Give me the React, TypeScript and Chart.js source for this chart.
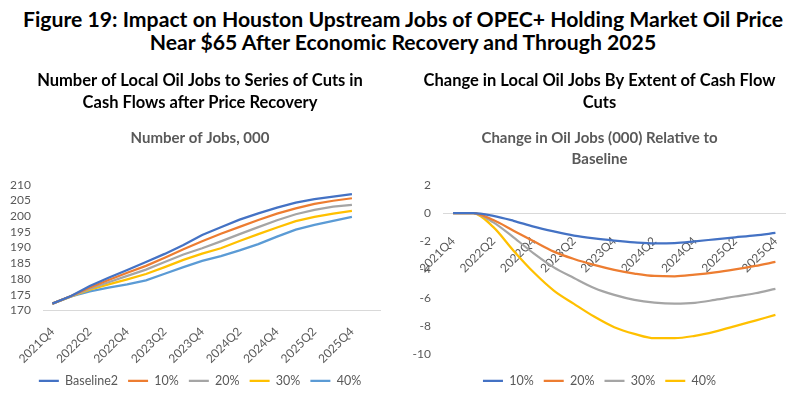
import React, { useEffect, useRef } from "react";
import { Chart, registerables } from "chart.js";

Chart.register(...registerables);

const FONT = "Lato";

const quarters = [
  "2021Q4", "2022Q1", "2022Q2", "2022Q3", "2022Q4",
  "2023Q1", "2023Q2", "2023Q3", "2023Q4",
  "2024Q1", "2024Q2", "2024Q3", "2024Q4",
  "2025Q1", "2025Q2", "2025Q3", "2025Q4",
];
// the left chart's category axis holds one trailing empty slot
const leftCategories = [...quarters, ""];

const jobsBaseline2 = [172.2, 174.6, 177.8, 180.4, 182.9, 185.4, 188.0, 190.8, 194.0, 196.5, 198.9, 200.9, 202.7, 204.3, 205.4, 206.2, 207.0];
const jobs10 = [172.2, 174.6, 177.3, 179.7, 182.0, 184.2, 186.8, 189.5, 192.0, 194.4, 196.6, 198.8, 200.8, 202.5, 203.9, 204.9, 205.7];
const jobs20 = [172.2, 174.5, 176.9, 179.0, 181.0, 183.0, 185.4, 187.8, 189.8, 192.0, 194.3, 196.5, 198.7, 200.6, 202.0, 203.0, 203.6];
const jobs30 = [172.2, 174.5, 176.6, 178.3, 179.9, 181.6, 183.8, 186.1, 188.1, 189.8, 192.1, 194.3, 196.4, 198.4, 199.8, 200.8, 201.7];
const jobs40 = [172.2, 174.5, 176.1, 177.3, 178.3, 179.6, 181.7, 183.8, 185.8, 187.3, 189.1, 191.1, 193.5, 195.7, 197.2, 198.5, 199.8];

const change10 = [0, 0, -0.2, -0.55, -0.96, -1.3, -1.6, -1.8, -1.95, -2.07, -2.14, -2.12, -2.0, -1.86, -1.72, -1.58, -1.41];
const change20 = [0, 0, -0.5, -1.25, -2.0, -2.73, -3.25, -3.67, -4.02, -4.28, -4.45, -4.47, -4.35, -4.19, -3.98, -3.74, -3.46];
const change30 = [0, 0, -0.66, -1.72, -2.85, -3.84, -4.59, -5.3, -5.79, -6.14, -6.33, -6.4, -6.35, -6.14, -5.9, -5.67, -5.36];
const change40 = [0, 0, -1.0, -2.66, -4.19, -5.48, -6.42, -7.32, -8.07, -8.54, -8.85, -8.85, -8.68, -8.38, -8.0, -7.6, -7.2];

const leftYTicks = { min: 170, max: 210, step: 5 };
const rightYTicks = { min: -10, max: 2, step: 2 };

const BLUE = "#4472C4";
const ORANGE = "#ED7D31";
const GRAY = "#A5A5A5";
const YELLOW = "#FFC000";
const LIGHTBLUE = "#5B9BD5";
const TEXT_GRAY = "#595959";
const AXIS_GRAY = "#D9D9D9";

function line(label: string, data: number[], color: string, smooth: boolean) {
  return {
    label,
    data,
    xAxisID: "x",
    yAxisID: "y",
    borderColor: color,
    backgroundColor: color,
    borderWidth: 2.25,
    pointRadius: 0,
    pointHoverRadius: 0,
    tension: smooth ? 0.4 : 0,
    cubicInterpolationMode: smooth ? ("monotone" as const) : ("default" as const),
    fill: false,
  };
}

const tickFont = { family: FONT, size: 12 };
const titleFont = { family: FONT, size: 16.5, weight: "bold" as const, lineHeight: 1.34 };
const subtitleFont = { family: FONT, size: 15, weight: "bold" as const, lineHeight: 1.4 };

function everyOther(this: any, value: any, index: number) {
  return index % 2 === 0 ? this.getLabelForValue(value) : "";
}

function legendOpts() {
  return {
    display: true,
    position: "bottom" as const,
    labels: {
      usePointStyle: true,
      pointStyle: "line",
      pointStyleWidth: 20,
      color: TEXT_GRAY,
      font: { family: FONT, size: 12.5 },
      padding: 10,
    },
  };
}

function gapAxis(position: "bottom" | "right", size: number) {
  return {
    type: "category",
    position,
    display: true,
    grid: { display: false, drawTicks: false },
    border: { display: false },
    ticks: { display: false },
    afterFit: (s: any) => {
      if (position === "bottom") s.height = size;
      else s.width = size;
    },
  };
}

function LeftChart() {
  const ref = useRef<HTMLCanvasElement>(null);
  useEffect(() => {
    if (!ref.current) return;
    const chart = new Chart(ref.current, {
      type: "line",
      data: {
        labels: leftCategories,
        datasets: [
          line("Baseline2", jobsBaseline2, BLUE, false),
          line("10%", jobs10, ORANGE, false),
          line("20%", jobs20, GRAY, false),
          line("30%", jobs30, YELLOW, false),
          line("40%", jobs40, LIGHTBLUE, false),
        ],
      },
      options: {
        animation: false,
        responsive: false,
        layout: { padding: 0 },
        plugins: {
          tooltip: { enabled: false },
          title: {
            display: true,
            text: ["Number of Local Oil Jobs to Series of Cuts in", "Cash Flows after Price Recovery"],
            color: "#000000",
            font: titleFont,
            padding: { top: 10, bottom: 0 },
          },
          subtitle: {
            display: true,
            text: "Number of Jobs, 000",
            color: TEXT_GRAY,
            font: subtitleFont,
            padding: { top: 13, bottom: 36.5 },
          },
          legend: legendOpts() as any,
        },
        scales: {
          x: {
            type: "category",
            offset: true,
            grid: { display: false },
            border: { display: true, color: AXIS_GRAY, width: 1 },
            ticks: {
              autoSkip: false,
              minRotation: 45,
              maxRotation: 45,
              color: TEXT_GRAY,
              font: tickFont,
              padding: 6,
              callback: everyOther,
            },
            afterFit: (s: any) => { s.height = 54; },
          },
          y: {
            min: leftYTicks.min,
            max: leftYTicks.max,
            grid: { display: false, drawTicks: false },
            border: { display: false },
            ticks: { stepSize: leftYTicks.step, autoSkip: false, color: TEXT_GRAY, font: tickFont, padding: 12 },
            afterFit: (s: any) => { s.width = 43; },
          },
          yGap: gapAxis("right", 20) as any,
        },
      },
    });
    return () => chart.destroy();
  }, []);
  return <canvas ref={ref} width={400} height={337} />;
}

function RightChart() {
  const ref = useRef<HTMLCanvasElement>(null);
  useEffect(() => {
    if (!ref.current) return;
    const chart = new Chart(ref.current, {
      type: "line",
      data: {
        labels: quarters,
        datasets: [
          line("10%", change10, BLUE, true),
          line("20%", change20, ORANGE, true),
          line("30%", change30, GRAY, true),
          line("40%", change40, YELLOW, true),
        ],
      },
      options: {
        animation: false,
        responsive: false,
        layout: { padding: 0 },
        plugins: {
          tooltip: { enabled: false },
          title: {
            display: true,
            text: ["Change in Local Oil Jobs By Extent of Cash Flow", "Cuts"],
            color: "#000000",
            font: titleFont,
            padding: { top: 10, bottom: 0 },
          },
          subtitle: {
            display: true,
            text: ["Change in Oil Jobs (000) Relative to", "Baseline"],
            color: TEXT_GRAY,
            font: subtitleFont,
            padding: { top: 13, bottom: 15.5 },
          },
          legend: legendOpts() as any,
        },
        scales: {
          y: {
            min: rightYTicks.min,
            max: rightYTicks.max,
            grid: { display: false, drawTicks: false },
            border: { display: false },
            ticks: { stepSize: rightYTicks.step, autoSkip: false, color: TEXT_GRAY, font: tickFont, padding: 12 },
            afterFit: (s: any) => { s.width = 43; },
          },
          x: {
            type: "category",
            offset: true,
            position: { y: 0 } as any,
            grid: { display: false },
            border: { display: true, color: AXIS_GRAY, width: 1 },
            ticks: {
              autoSkip: false,
              minRotation: 45,
              maxRotation: 45,
              color: TEXT_GRAY,
              font: tickFont,
              padding: 13,
              callback: everyOther,
            },
          },
          xGap: gapAxis("bottom", 10) as any,
          yGap: gapAxis("right", 13) as any,
        },
      },
    });
    return () => chart.destroy();
  }, []);
  return <canvas ref={ref} width={399} height={337} />;
}

export default function App() {
  return (
    <div style={{ position: "fixed", left: 0, top: 0, width: 799, height: 397, background: "#ffffff", overflow: "hidden" }}>
      <div
        style={{
          position: "absolute",
          left: 0,
          top: 8,
          width: 806,
          textAlign: "center",
          fontFamily: FONT,
          fontWeight: "bold",
          fontSize: 21.2,
          lineHeight: "23px",
          color: "#000000",
          whiteSpace: "nowrap",
        }}
      >
        Figure 19: Impact on Houston Upstream Jobs of OPEC+ Holding Market Oil Price
        <br />
        Near $65 After Economic Recovery and Through 2025
      </div>
      <div style={{ position: "absolute", left: 0, top: 60, width: 400, height: 337 }}>
        <LeftChart />
      </div>
      <div style={{ position: "absolute", left: 400, top: 60, width: 399, height: 337 }}>
        <RightChart />
      </div>
    </div>
  );
}
